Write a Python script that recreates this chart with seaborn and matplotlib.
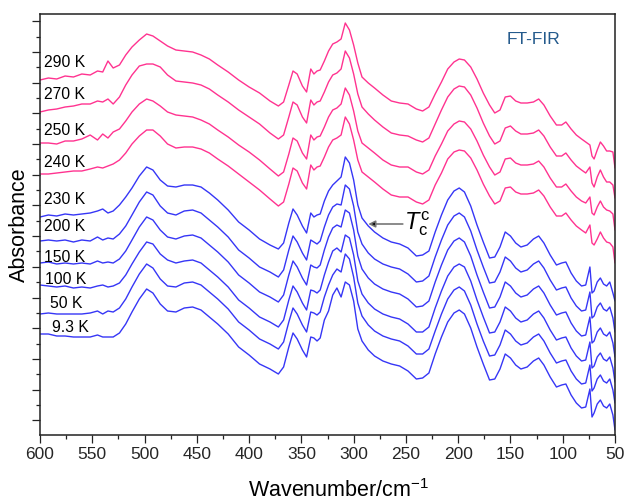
import matplotlib
matplotlib.use('Agg')
import matplotlib.pyplot as plt
import seaborn as sns
import pandas as pd
from matplotlib.ticker import MultipleLocator, FixedLocator

# ---------------- data (absorbance, arbitrary units, stacked) ----------------
wavenumber = [600, 592, 584, 576, 568, 560, 552, 545, 540, 535,
              530, 524, 518, 512, 505, 498, 492, 485, 478, 470,
              462, 454, 446, 438, 430, 420, 410, 400, 390, 380,
              372, 367, 362, 358, 354, 349, 345, 341, 338, 335,
              332, 328, 324, 320, 316, 312, 308, 304, 300, 296,
              292, 286, 280, 272, 264, 256, 248, 240, 234, 228,
              222, 216, 210, 204, 199, 194, 188, 182, 176, 170,
              165, 160, 155, 150, 145, 140, 134, 128, 123, 118,
              112, 106, 101, 97, 92, 87, 82, 78, 74, 72,
              70, 67, 64, 61, 58, 55, 52, 50]

a290 = [355, 357, 356, 359, 358, 361, 360, 364, 363, 374,
        367, 370, 380, 388, 395, 401, 399, 394, 389, 385,
        384, 383, 380, 376, 370, 363, 355, 348, 342, 334,
        329, 333, 350, 364, 361, 349, 343, 366, 361, 364,
        365, 374, 384, 391, 393, 396, 412, 405, 390, 372,
        358, 352, 347, 340, 334, 332, 331, 326, 324, 328,
        341, 353, 366, 373, 376, 375, 368, 356, 342, 330,
        322, 325, 338, 339, 334, 332, 332, 333, 336, 330,
        319, 310, 310, 313, 306, 300, 296, 293, 290, 279,
        276, 285, 293, 289, 284, 284, 283, 267]

a270 = [323, 325, 326, 328, 329, 331, 331, 334, 333, 336,
        331, 338, 350, 360, 369, 371, 371, 368, 360, 354,
        353, 352, 350, 346, 340, 333, 325, 318, 311, 302,
        296, 300, 318, 333, 330, 318, 312, 335, 330, 333,
        334, 343, 353, 360, 362, 366, 384, 377, 361, 341,
        328, 321, 315, 308, 302, 300, 299, 295, 293, 297,
        311, 325, 338, 346, 349, 348, 340, 327, 312, 299,
        291, 294, 307, 309, 304, 301, 301, 302, 305, 299,
        288, 279, 279, 282, 275, 269, 265, 262, 268, 252,
        248, 258, 265, 258, 253, 253, 250, 237]

a250 = [292, 292, 291, 294, 294, 296, 300, 295, 301, 297,
        303, 306, 314, 323, 331, 336, 334, 329, 323, 320,
        319, 318, 315, 311, 305, 298, 290, 283, 275, 266,
        259, 263, 281, 297, 294, 282, 276, 300, 295, 298,
        299, 308, 318, 325, 327, 331, 347, 340, 324, 304,
        292, 287, 282, 275, 270, 268, 268, 263, 261, 265,
        279, 291, 304, 311, 314, 313, 306, 294, 280, 268,
        260, 263, 276, 277, 272, 270, 270, 271, 274, 268,
        257, 248, 248, 251, 244, 238, 234, 232, 238, 222,
        220, 228, 234, 228, 225, 224, 221, 205]

a240 = [261, 261, 262, 263, 264, 264, 266, 268, 267, 269,
        271, 275, 282, 291, 299, 305, 305, 299, 291, 287,
        288, 288, 286, 282, 276, 269, 261, 253, 245, 236,
        229, 233, 251, 267, 264, 252, 246, 270, 265, 268,
        269, 278, 288, 295, 297, 300, 318, 311, 295, 275,
        263, 258, 253, 246, 240, 238, 238, 233, 231, 235,
        250, 262, 276, 283, 285, 284, 277, 265, 251, 239,
        231, 234, 247, 248, 243, 241, 241, 242, 245, 239,
        228, 219, 219, 222, 215, 209, 205, 202, 210, 192,
        190, 196, 203, 197, 193, 192, 188, 172]

a230 = [218, 220, 219, 221, 220, 221, 222, 224, 226, 222,
        224, 230, 238, 247, 259, 268, 265, 255, 249, 248,
        250, 250, 248, 242, 235, 225, 213, 205, 196, 190,
        186, 192, 212, 226, 220, 209, 202, 222, 218, 220,
        221, 234, 244, 250, 254, 258, 278, 272, 255, 230,
        217, 209, 203, 197, 193, 191, 187, 179, 180, 184,
        203, 220, 235, 244, 247, 243, 229, 210, 193, 177,
        178, 188, 203, 199, 192, 188, 190, 196, 199, 192,
        180, 170, 172, 173, 162, 154, 149, 150, 168, 142,
        144, 153, 157, 151, 149, 153, 142, 134]

a200 = [194, 195, 194, 195, 193, 195, 194, 198, 195, 197,
        196, 201, 209, 220, 233, 243, 240, 229, 222, 220,
        224, 225, 222, 215, 208, 198, 185, 177, 168, 163,
        158, 165, 185, 199, 193, 182, 175, 195, 193, 191,
        194, 208, 220, 228, 231, 230, 250, 246, 229, 203,
        191, 182, 176, 171, 168, 166, 161, 153, 154, 159,
        178, 195, 210, 219, 222, 218, 204, 185, 168, 152,
        153, 163, 178, 174, 167, 163, 165, 171, 174, 167,
        155, 145, 147, 148, 137, 129, 124, 125, 143, 117,
        119, 128, 132, 126, 124, 128, 117, 103]

a150 = [172, 173, 171, 172, 171, 172, 171, 174, 172, 173,
        172, 176, 184, 195, 208, 218, 215, 205, 198, 196,
        199, 200, 197, 190, 183, 173, 160, 152, 143, 138,
        133, 140, 160, 174, 168, 157, 150, 170, 168, 167,
        170, 185, 198, 207, 210, 208, 225, 222, 205, 179,
        166, 157, 151, 146, 143, 141, 136, 128, 129, 134,
        153, 170, 185, 194, 197, 193, 179, 160, 143, 127,
        128, 138, 153, 149, 142, 138, 140, 146, 149, 142,
        130, 120, 122, 123, 112, 104, 99, 100, 118, 92,
        94, 103, 107, 101, 99, 103, 92, 78]

a100 = [150, 149, 148, 149, 147, 148, 147, 149, 150, 148,
        149, 152, 160, 171, 183, 193, 191, 181, 175, 172,
        174, 175, 172, 165, 158, 148, 135, 127, 118, 113,
        108, 115, 135, 149, 143, 132, 125, 145, 144, 142,
        145, 160, 173, 184, 187, 183, 200, 197, 180, 154,
        141, 132, 126, 121, 118, 116, 111, 103, 103, 108,
        127, 144, 159, 168, 171, 168, 154, 135, 118, 102,
        103, 113, 128, 124, 117, 113, 115, 121, 124, 117,
        105, 95, 97, 98, 87, 79, 74, 75, 93, 67,
        69, 78, 82, 76, 74, 78, 67, 53]

a050 = [121, 122, 121, 121, 121, 121, 122, 124, 121, 124,
        123, 127, 136, 148, 161, 171, 167, 156, 149, 148,
        152, 153, 150, 143, 136, 126, 113, 105, 96, 91,
        86, 93, 113, 127, 121, 110, 103, 123, 122, 120,
        123, 138, 150, 160, 166, 163, 181, 176, 158, 132,
        119, 110, 104, 99, 96, 94, 89, 81, 81, 86,
        104, 121, 136, 145, 148, 144, 130, 111, 94, 79,
        80, 90, 105, 101, 94, 90, 92, 98, 101, 94,
        82, 72, 74, 75, 64, 56, 51, 52, 70, 44,
        47, 56, 60, 54, 52, 56, 45, 32]

a009 = [101, 101, 99, 99, 98, 98, 98, 100, 98, 98,
        98, 102, 111, 123, 136, 146, 142, 131, 124, 123,
        127, 128, 125, 118, 111, 101, 88, 80, 71, 66,
        61, 68, 88, 102, 96, 85, 78, 98, 97, 94,
        97, 115, 124, 140, 147, 138, 153, 150, 134, 106,
        94, 85, 79, 74, 71, 69, 64, 56, 57, 62,
        81, 98, 113, 122, 125, 121, 107, 88, 71, 55,
        56, 66, 81, 77, 70, 66, 68, 74, 77, 70,
        58, 48, 50, 51, 40, 32, 27, 28, 46, 18,
        22, 31, 35, 29, 27, 31, 20, 5]

temperatures = ['290 K', '270 K', '250 K', '240 K', '230 K',
                '200 K', '150 K', '100 K', '50 K', '9.3 K']
spectra = [a290, a270, a250, a240, a230, a200, a150, a100, a050, a009]
phase = ['high', 'high', 'high', 'high', 'low', 'low', 'low', 'low', 'low', 'low']

# label anchor positions (wavenumber, absorbance) for the temperature tags
label_x = [596, 596, 596, 596, 596, 596, 596, 595, 590, 589]
label_y = [372, 340, 304, 272, 235, 208, 178, 156, 132, 107]

PINK = '#ff3390'
BLUE = '#3636f6'

# ---------------- style ----------------
sns.set_theme(style='ticks')
plt.rcParams['font.family'] = ['Liberation Sans', 'DejaVu Sans']
plt.rcParams['mathtext.fontset'] = 'custom'
plt.rcParams['mathtext.rm'] = 'Liberation Sans'
plt.rcParams['mathtext.it'] = 'Liberation Sans:italic'
plt.rcParams['mathtext.bf'] = 'Liberation Sans:bold'

records = []
for t, s, p in zip(temperatures, spectra, phase):
    assert len(s) == len(wavenumber), t
    for w, a in zip(wavenumber, s):
        records.append({'wavenumber': w, 'absorbance': a, 'temperature': t})
df = pd.DataFrame(records)
palette = {t: (PINK if p == 'high' else BLUE) for t, p in zip(temperatures, phase)}

fig = plt.figure(figsize=(6.27, 5.03), dpi=100)
ax = fig.add_axes([40 / 627, 68 / 503, 575 / 627, 421 / 503])

sns.lineplot(data=df, x='wavenumber', y='absorbance', hue='temperature',
             palette=palette, estimator=None, sort=False, legend=False,
             linewidth=1.0, ax=ax)

ax.set_xlim(600, 50)
ax.set_ylim(0, 421)

ax.xaxis.set_major_locator(MultipleLocator(50))
ax.xaxis.set_minor_locator(MultipleLocator(25))
ymaj = [14.7 + 30.7 * k for k in range(14)]
ymin = [14.7 + 30.7 * k + 15.35 for k in range(-1, 14)]
ax.yaxis.set_major_locator(FixedLocator(ymaj))
ax.yaxis.set_minor_locator(FixedLocator([v for v in ymin if 0 < v < 421]))
ax.set_yticklabels([])

ax.tick_params(axis='both', which='major', direction='out', length=5.5,
               width=0.9, color='#222222', labelsize=12.5, pad=3)
ax.tick_params(axis='both', which='minor', direction='out', length=3,
               width=0.9, color='#222222')
ax.tick_params(axis='x', which='both', top=False)
ax.tick_params(axis='y', which='both', right=False)
for sp in ax.spines.values():
    sp.set_visible(True)
    sp.set_linewidth(1.1)
    sp.set_color('#222222')

ax.set_xlabel('Wavenumber/cm$^{\u2212 1}$', fontsize=15.5, color='black')
ax.set_ylabel('Absorbance', fontsize=15.5, color='black')
ax.yaxis.set_label_coords(-0.018, 0.5)
ax.xaxis.set_label_coords(0.52, -0.105)

for t, x, y in zip(temperatures, label_x, label_y):
    ax.text(x, y, t, fontsize=11.3, ha='left', va='center', color='black')

ax.text(0.859, 0.94, 'FT-FIR', transform=ax.transAxes, fontsize=12.5,
        color='#245a8c', ha='center', va='center')

ax.annotate('', xy=(286, 211), xytext=(253, 211),
            arrowprops=dict(arrowstyle='-|>', facecolor='black',
                            edgecolor='#777777', lw=1.2,
                            mutation_scale=10, shrinkA=0, shrinkB=0))
ax.text(252, 211, r'$T_{\mathrm{c}}^{\mathrm{c}}$', fontsize=17,
        ha='left', va='center', color='black')

fig.savefig('out.png', dpi=100)
